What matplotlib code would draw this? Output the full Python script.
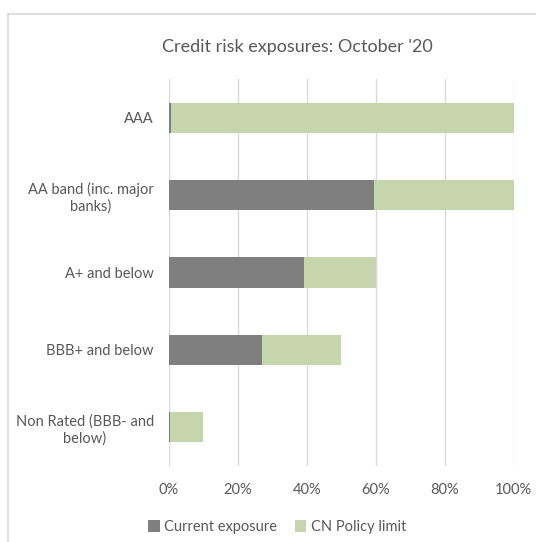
import matplotlib
matplotlib.use("Agg")
import matplotlib.pyplot as plt
from matplotlib.lines import Line2D
from matplotlib.patches import Patch

plt.rcParams['font.family'] = ['Lato', 'DejaVu Sans']

categories = [
    "AAA",
    "AA band (inc. major\nbanks)",
    "A+ and below",
    "BBB+ and below",
    "Non Rated (BBB- and\nbelow)",
]
current_exposure = [0.8, 59.4, 39.2, 27.0, 0.3]
policy_limit = [100, 100, 60, 50, 10]
x_ticks = [0, 20, 40, 60, 80, 100]
x_tick_labels = ["0%", "20%", "40%", "60%", "80%", "100%"]

GREY = "#7F7F7F"
GREEN = "#C6D5AB"
TEXT = "#595959"
GRID = "#D9D9D9"

W, H = 536, 542
fig = plt.figure(figsize=(W / 100, H / 100), dpi=100)

left, right, top, bottom = 168.7, 513.7, 79, 466
ax = fig.add_axes([left / W, 1 - bottom / H, (right - left) / W, (bottom - top) / H])

ypos = list(range(len(categories)))
bar_h = 0.39
ax.barh(ypos, policy_limit, height=bar_h, color=GREEN, zorder=2, label="CN Policy limit")
ax.barh(ypos, current_exposure, height=bar_h, color=GREY, zorder=3, label="Current exposure")

ax.set_xlim(0, 100)
ax.set_ylim(len(categories) - 0.5, -0.5)
ax.set_yticks(ypos)
ax.set_yticklabels(categories, multialignment="center", fontsize=10.5, color=TEXT)
ax.set_xticks(x_ticks)
ax.set_xticklabels(x_tick_labels, fontsize=10.5, color=TEXT)
ax.tick_params(axis="both", length=0)
ax.tick_params(axis="y", pad=10.6)
ax.tick_params(axis="x", pad=12.5)
ax.grid(axis="x", color=GRID, linewidth=1, zorder=0)
ax.set_axisbelow(True)
for s in ax.spines.values():
    s.set_visible(False)

fig.text(297 / W, 1 - 47 / H, "Credit risk exposures: October '20", ha="center", va="center",
         fontsize=13, color=TEXT)

handles = [Patch(facecolor=GREY, edgecolor="none", label="Current exposure"),
           Patch(facecolor=GREEN, edgecolor="none", label="CN Policy limit")]
fig.legend(handles=handles, loc="center", bbox_to_anchor=(277 / W, 1 - 527 / H), ncol=2,
           frameon=False, fontsize=10.5, labelcolor=TEXT, handlelength=0.8, handleheight=0.8,
           handletextpad=0.3, columnspacing=1.2)

# outer chart-area border
fig.add_artist(Line2D([8 / W, 1], [1 - 14 / H, 1 - 14 / H], color=GRID, linewidth=1.2,
                      transform=fig.transFigure))
fig.add_artist(Line2D([8 / W, 8 / W], [0, 1 - 14 / H], color=GRID, linewidth=1.2,
                      transform=fig.transFigure))

fig.savefig("out.png", dpi=100)
